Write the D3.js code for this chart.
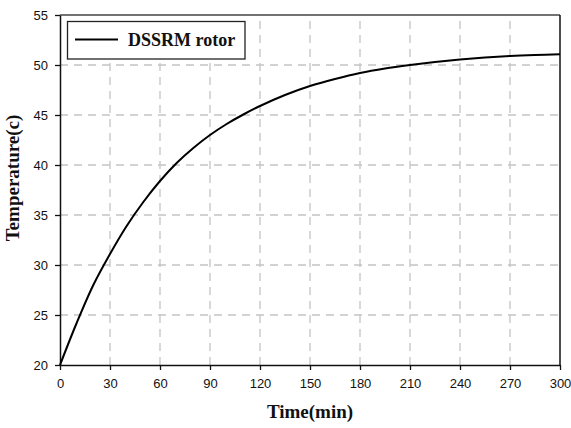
<!DOCTYPE html>
<html>
<head>
<meta charset="utf-8">
<script src="https://cdn.jsdelivr.net/npm/d3@7"></script>
<style>
  html, body { margin: 0; padding: 0; background: #fff; }
  svg { display: block; }
</style>
</head>
<body>
<svg id="chart" width="571" height="428"></svg>
<script>
// Rotor temperature rise over time
const timeMin = [0, 10, 20, 30, 40, 50, 60, 70, 80, 90, 100, 110, 120, 135, 150, 165, 180, 195, 210, 225, 240, 255, 270, 285, 300];
const rotorTemp = [20, 24.2, 28.0, 31.1, 33.9, 36.3, 38.4, 40.2, 41.7, 43.0, 44.1, 45.05, 45.9, 47.0, 47.9, 48.6, 49.2, 49.65, 50.0, 50.3, 50.55, 50.75, 50.9, 51.0, 51.07];
const xTicks = [0, 30, 60, 90, 120, 150, 180, 210, 240, 270, 300];
const yTicks = [20, 25, 30, 35, 40, 45, 50, 55];
const seriesName = "DSSRM rotor";
const xTitle = "Time(min)";
const yTitle = "Temperature(c)";

const svg = d3.select("#chart");
const m = { left: 60, right: 11, top: 15, bottom: 63 };
const W = 571, H = 428;
const x = d3.scaleLinear().domain([0, 300]).range([m.left, W - m.right]);
const y = d3.scaleLinear().domain([20, 55]).range([H - m.bottom, m.top]);

// dashed grid
const grid = svg.append("g");
grid.selectAll("line.gx").data(xTicks.filter(d => d > 0 && d < 300)).join("line")
  .attr("x1", d => x(d)).attr("x2", d => x(d))
  .attr("y1", y(20)).attr("y2", y(55))
  .attr("stroke", "#c4c4c4").attr("stroke-width", 1.3).attr("stroke-dasharray", "8,6");
grid.selectAll("line.gy").data(yTicks.filter(d => d > 20 && d < 55)).join("line")
  .attr("x1", x(0)).attr("x2", x(300))
  .attr("y1", d => y(d)).attr("y2", d => y(d))
  .attr("stroke", "#c4c4c4").attr("stroke-width", 1.3).attr("stroke-dasharray", "8,6");

// frame: top and right edges
svg.append("line").attr("x1", x(0)).attr("x2", x(300)).attr("y1", y(55)).attr("y2", y(55))
  .attr("stroke", "#444").attr("stroke-width", 1.5);
svg.append("line").attr("x1", x(300)).attr("x2", x(300)).attr("y1", y(55)).attr("y2", y(20))
  .attr("stroke", "#111").attr("stroke-width", 1.5);

// axes
const xAxis = svg.append("g").attr("transform", `translate(0,${y(20)})`)
  .call(d3.axisBottom(x).tickValues(xTicks).tickSize(5).tickPadding(9).tickSizeOuter(0));
const yAxis = svg.append("g").attr("transform", `translate(${x(0)},0)`)
  .call(d3.axisLeft(y).tickValues(yTicks).tickSize(5).tickPadding(7).tickSizeOuter(0));
[xAxis, yAxis].forEach(a => {
  a.select(".domain").attr("stroke", "#111").attr("stroke-width", 1.5);
  a.selectAll(".tick line").attr("stroke", "#111").attr("stroke-width", 1.3);
  a.selectAll(".tick text").attr("fill", "#111")
    .style("font-family", "Arial, 'Liberation Sans', sans-serif").style("font-size", "13px");
});

// temperature curve
const line = d3.line().x((d, i) => x(timeMin[i])).y(d => y(d)).curve(d3.curveCatmullRom.alpha(0.5));
svg.append("path").datum(rotorTemp).attr("d", line)
  .attr("fill", "none").attr("stroke", "#000").attr("stroke-width", 2);

// legend
const lg = svg.append("g");
lg.append("rect").attr("x", 67.5).attr("y", 21.5).attr("width", 177.5).attr("height", 37.5)
  .attr("fill", "#fff").attr("stroke", "#222").attr("stroke-width", 1.3);
lg.append("line").attr("x1", 75).attr("x2", 118).attr("y1", 39.5).attr("y2", 39.5)
  .attr("stroke", "#000").attr("stroke-width", 2);
lg.append("text").attr("x", 128).attr("y", 46).text(seriesName)
  .style("font-family", "'Liberation Serif', 'Times New Roman', serif")
  .style("font-weight", "bold").style("font-size", "18px").attr("fill", "#111");

// axis titles
svg.append("text").attr("x", (x(0) + x(300)) / 2).attr("y", 418).attr("text-anchor", "middle")
  .text(xTitle)
  .style("font-family", "'Liberation Serif', 'Times New Roman', serif")
  .style("font-weight", "bold").style("font-size", "19px").attr("fill", "#111");
svg.append("text").attr("transform", "translate(19,178) rotate(-90)").attr("text-anchor", "middle")
  .text(yTitle)
  .style("font-family", "'Liberation Serif', 'Times New Roman', serif")
  .style("font-weight", "bold").style("font-size", "19px").attr("fill", "#111");
</script>
</body>
</html>
